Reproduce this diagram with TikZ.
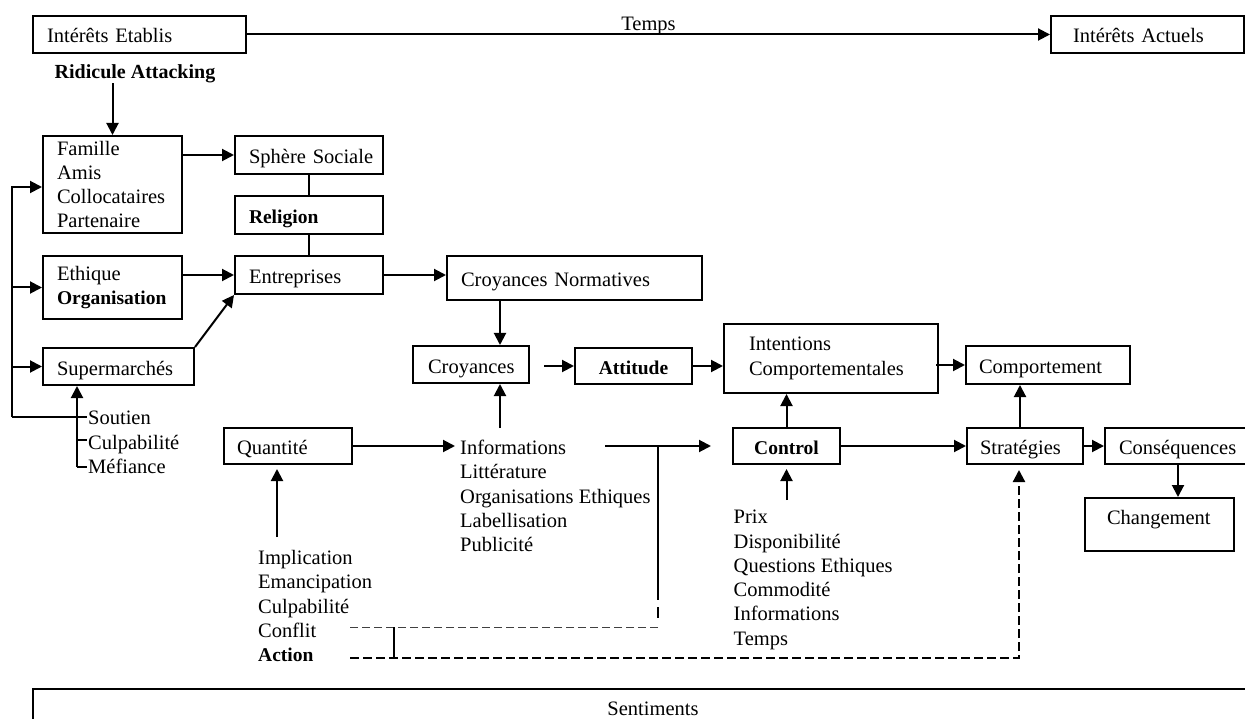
\documentclass[tikz,border=0pt]{standalone}
\usepackage{fontspec}
\setmainfont{Liberation Serif}
\usetikzlibrary{arrows.meta,calc}
% heavier face used for a few labels
\newcommand{\hv}[1]{{\fontsize{19.5}{24.3}\selectfont\bfseries #1}}
\begin{document}
\begin{tikzpicture}[x=1pt,y=1pt,
  font=\fontsize{20.5}{24.3}\selectfont,
  box/.style={draw, line width=2pt, rectangle, anchor=north west, align=left, inner ysep=0pt},
  oneline/.style={text height=18pt, text depth=1pt},
  link/.style={line width=2pt},
  arr/.style={line width=2pt, -{Triangle[length=12pt,width=12pt]}},
  txt/.style={inner sep=0pt, align=left, anchor=north west},
  thindash/.style={line width=1pt, black!75, dash pattern=on 8pt off 4pt},
  thickdash/.style={line width=2.2pt, dash pattern=on 9pt off 4pt}
]
\useasboundingbox (0,0) rectangle (1245,-719);
\clip (0,0) rectangle (1245,-719);

% ---------- boxes ----------
\node[box, oneline, minimum height=37pt, text width=185pt, inner xsep=14pt] (ie) at (32,-15) {\mbox{Intérêts Etablis}};
\node[box, oneline, minimum height=37pt, text width=149pt, inner xsep=22pt] (ia) at (1050,-15) {\mbox{Intérêts Actuels}};

\node[box, minimum height=97pt, text width=111pt, inner xsep=14pt] (fam) at (42,-135) {Famille\\Amis\\Collocataires\\Partenaire};
\node[box, oneline, minimum height=38pt, text width=120pt, inner xsep=14pt] (sph) at (234,-135) {\mbox{Sphère Sociale}};
\node[box, oneline, minimum height=38pt, text width=120pt, inner xsep=14pt] (rel) at (234,-195) {\hv{Religion}};
\node[box, minimum height=63pt, text width=111pt, inner xsep=14pt] (eth) at (42,-255) {Ethique\\\hv{Organisation}};
\node[box, oneline, minimum height=38pt, text width=120pt, inner xsep=14pt] (ent) at (234,-255) {Entreprises};
\node[box, oneline, minimum height=37pt, text width=123pt, inner xsep=14pt] (sup) at (42,-347) {Supermarchés};

\node[box, oneline, minimum height=44pt, text width=227pt, inner xsep=14pt] (cn) at (446,-255) {\mbox{Croyances Normatives}};
\node[box, oneline, minimum height=37pt, text width=86pt, inner xsep=15pt] (croy) at (412,-345) {Croyances};
\node[box, oneline, minimum height=36pt, text width=89pt, inner xsep=14pt, align=center] (att) at (574,-347) {\hv{Attitude}};
\node[box, minimum height=69pt, text width=164pt, inner xsep=25pt] (int) at (723,-323) {Intentions\\Comportementales};
\node[box, oneline, minimum height=38pt, text width=138pt, inner xsep=13pt] (comp) at (965,-345) {Comportement};

\node[box, oneline, minimum height=36pt, text width=102pt, inner xsep=13pt] (quant) at (223,-427) {Quantité};
\node[box, oneline, minimum height=36pt, text width=81pt, inner xsep=13pt, align=center] (ctrl) at (732,-427) {\hv{Control}};
\node[box, oneline, minimum height=36pt, text width=90pt, inner xsep=13pt] (strat) at (966,-427) {Stratégies};
\node[box, oneline, minimum height=36pt, text width=132pt, inner xsep=14pt] (cons) at (1104,-427) {Conséquences};
\node[box, minimum height=53pt, text width=105pt, inner xsep=22pt, text depth=15pt] (chg) at (1084,-497) {Changement};

\node[draw, line width=2pt, anchor=north west, minimum width=1240pt, minimum height=40pt, inner sep=0pt] (sent) at (32,-688) {Sentiments};

% ---------- free texts ----------
\node[inner sep=0pt, font=\fontsize{20}{24}\selectfont\bfseries] (rid) at (135,-74) {Ridicule Attacking};
\node[txt] (fac) at (88,-411) {Soutien\\Culpabilité\\Méfiance};
\node[txt] (info) at (460,-440) {Informations\\Littérature\\Organisations Ethiques\\Labellisation\\Publicité};
\node[txt] (implt) at (258,-550) {Implication\\Emancipation\\Culpabilité\\Conflit\\\hv{Action}};
\node[txt] (prix) at (733.5,-510) {Prix\\Disponibilité\\Questions Ethiques\\Commodité\\Informations\\Temps};

% ---------- helper points ----------
\coordinate (fbtop) at (12,-187);
\coordinate (fbbot) at (12,-417);
\coordinate (tk1) at (87,-417);
\coordinate (brk) at (77,-467);
\coordinate (brkm) at (77,-440);
\coordinate (tk2) at (87,-440);
\coordinate (tk3) at (87,-467);
\coordinate (cx) at (500,0);
\coordinate (infotop) at (500,-428);
\coordinate (ca) at ([xshift=14pt]croy.east);
\coordinate (sx) at (1020,0);
\coordinate (chx) at (1178,0);
\coordinate (qi) at (455,0);
\coordinate (prixtop) at ([yshift=-35pt]ctrl.south);
\coordinate (impl) at (277,-537);
\coordinate (ia1) at (605,-446);
\coordinate (ct) at (711,0);
\coordinate (jn) at (658,-446);
\coordinate (jd0) at (658,-600);
\coordinate (jd1) at (658,-607);
\coordinate (jd2) at (658,-618);
\coordinate (cfr) at (658,-627);
\coordinate (cfl) at (350,-627);
\coordinate (lk1) at (394,-627);
\coordinate (lk2) at (394,-658);
\coordinate (acl) at (350,-658);
\coordinate (acr) at (1019,-658);

% ---------- connectors ----------
\draw[arr] (ie.east) -- node[anchor=base, yshift=4pt, inner sep=0pt] {Temps} (ia.west);

\draw[arr] (rid.south -| fam.north) -- (fam.north);
\draw[arr] (fam.east |- sph.west) -- (sph.west);
\draw[link] (sph.south) -- (rel.north);
\draw[link] (rel.south) -- (ent.north);
\draw[arr] (eth.east |- ent.west) -- (ent.west);
\draw[arr] (sup.north east) -- (ent.south west);

\draw[arr] (fbbot) -- (fbtop) -- (fbtop -| fam.west);
\draw[arr] (fbbot |- eth.west) -- (eth.west);
\draw[arr] (fbbot |- sup.west) -- (sup.west);
\draw[link] (fbbot) -- (tk1);
\draw[arr] (brk) -- (brk |- sup.south);
\draw[link] (brk) -- (tk3);
\draw[link] (brkm) -- (tk2);

\draw[arr] (ent.east) -- (ent.east -| cn.west);
\draw[arr] (cn.south -| cx) -- (croy.north -| cx);
\draw[arr] (infotop) -- (croy.south -| cx);
\draw[arr] (ca |- att.west) -- (att.west);
\draw[arr] (att.east) -- (att.east -| int.west);
\draw[arr] ([xshift=-3pt]int.east |- comp.west) -- (comp.west);
\draw[arr] (strat.north -| sx) -- (comp.south -| sx);
\draw[arr] (ctrl.north) -- (ctrl.north |- int.south);
\draw[arr, shorten >=4pt] (prixtop) -- (ctrl.south);
\draw[arr] (ctrl.east) -- (ctrl.east -| strat.west);
\draw[arr] (strat.east) -- (strat.east -| cons.west);
\draw[arr] (cons.south -| chx) -- (chg.north -| chx);

\draw[arr] (quant.east) -- (quant.east -| qi);
\draw[arr, shorten >=4pt] (impl) -- (impl |- quant.south);

\draw[arr] (ia1) -- (ia1 -| ct);
\draw[link] (jn) -- (jd0);
\draw[link] (jd1) -- (jd2);
\draw[thindash] (cfr) -- (cfl);
\draw[link] (lk1) -- (lk2);
\draw[thickdash, -{Triangle[length=12pt,width=12pt]}, shorten >=5pt] (acl) -- (acr) -- (strat.south -| acr);
\end{tikzpicture}
\end{document}
